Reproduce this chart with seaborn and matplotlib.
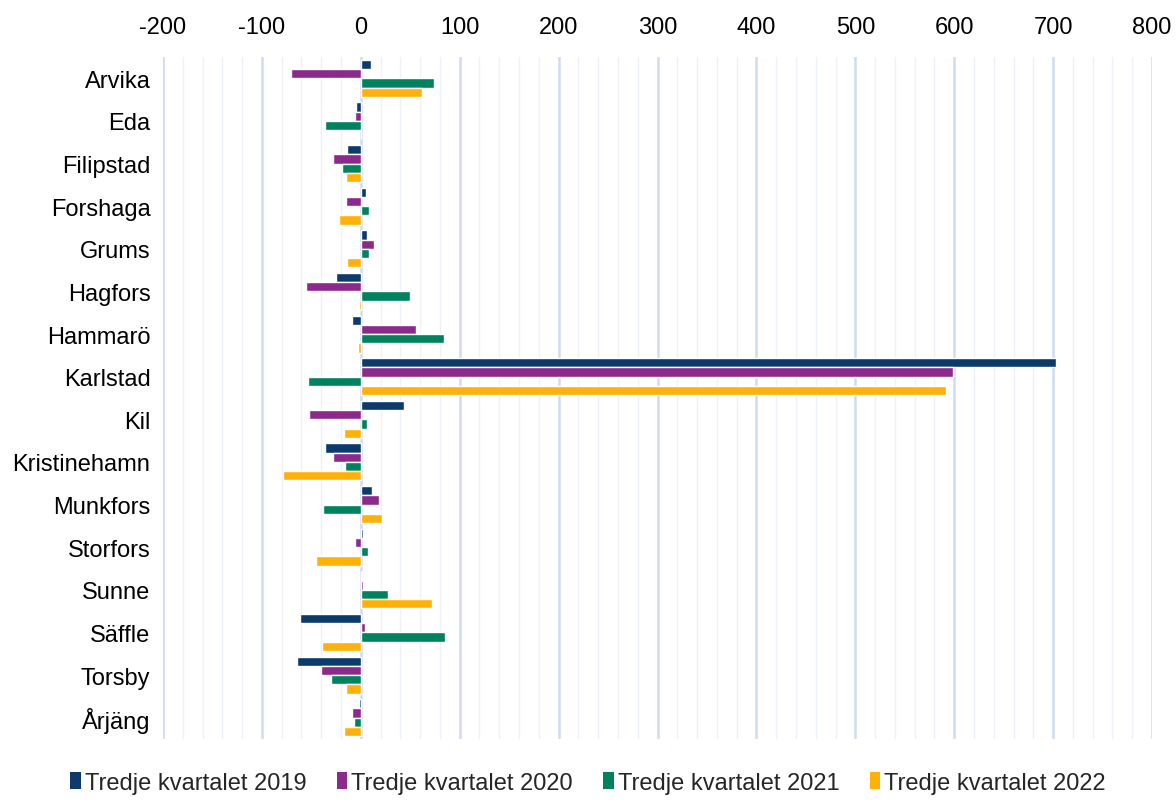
import matplotlib
matplotlib.use("Agg")
import matplotlib.pyplot as plt
import seaborn as sns
import pandas as pd
import numpy as np
from matplotlib.patches import Patch

municipalities = ["Arvika", "Eda", "Filipstad", "Forshaga", "Grums", "Hagfors", "Hammarö",
                  "Karlstad", "Kil", "Kristinehamn", "Munkfors", "Storfors", "Sunne",
                  "Säffle", "Torsby", "Årjäng"]
series_names = ["Tredje kvartalet 2019", "Tredje kvartalet 2020",
                "Tredje kvartalet 2021", "Tredje kvartalet 2022"]
q3_2019 = [10, -5, -14, 5, 6, -25, -9, 703, 44, -36, 11, 2, 1, -61, -65, -2]
q3_2020 = [-71, -6, -28, -15, 13, -55, 56, 599, -52, -28, 18, -6, 2, 4, -40, -9]
q3_2021 = [74, -36, -19, 8, 8, 50, 84, -53, 6, -16, -38, 7, 28, 85, -30, -7]
q3_2022 = [62, 0, -15, -22, -14, -2, -3, 592, -17, -79, 21, -45, 72, -39, -15, -17]
x_ticks = [-200, -100, 0, 100, 200, 300, 400, 500, 600, 700, 800]

colors = ["#0b3a6b", "#8c2a8c", "#00825f", "#ffb10a"]

rows = []
for name, vals in zip(series_names, [q3_2019, q3_2020, q3_2021, q3_2022]):
    for m, v in zip(municipalities, vals):
        rows.append({"Kommun": m, "Serie": name, "Värde": v})
df = pd.DataFrame(rows)

sns.set_theme(style="white")
plt.rcParams["font.family"] = ["Liberation Sans", "DejaVu Sans"]

fig = plt.figure(figsize=(11.76, 8.03), dpi=100)
ax = fig.add_axes([163 / 1176, 1 - 740 / 803, (1152 - 163) / 1176, (740 - 58) / 803])

# grid lines
for v in np.arange(-200, 801, 20):
    major = (v % 100 == 0)
    ax.axvline(v, color="#cfdcef" if major else "#edf2f9",
               lw=1.8 if major else 1.0, zorder=0)

sns.barplot(data=df, y="Kommun", x="Värde", hue="Serie", order=municipalities,
            hue_order=series_names, palette=colors, orient="h", width=0.87,
            saturation=1, dodge=True, ax=ax, legend=False, zorder=3)

ax.set_xlim(-200, 800)
ax.set_ylim(len(municipalities) - 0.5, -0.5)
ax.set_xticks(x_ticks)
ax.set_xticklabels([str(t) for t in x_ticks])
ax.xaxis.tick_top()
ax.tick_params(axis="x", length=0, pad=14, labelsize=17, colors="#000000")
ax.tick_params(axis="y", length=0, pad=9, labelsize=17, colors="#000000")
ax.set_xlabel("")
ax.set_ylabel("")
for s in ax.spines.values():
    s.set_visible(False)
ax.grid(False)

handles = [Patch(facecolor=c, edgecolor="none") for c in colors]
fig.legend(handles, series_names, loc="lower center", bbox_to_anchor=(0.5, -0.016),
           ncol=4, frameon=False, fontsize=17, handlelength=0.45, handleheight=0.7,
           handletextpad=0.15, columnspacing=1.3)

fig.savefig("out.png", dpi=100)
